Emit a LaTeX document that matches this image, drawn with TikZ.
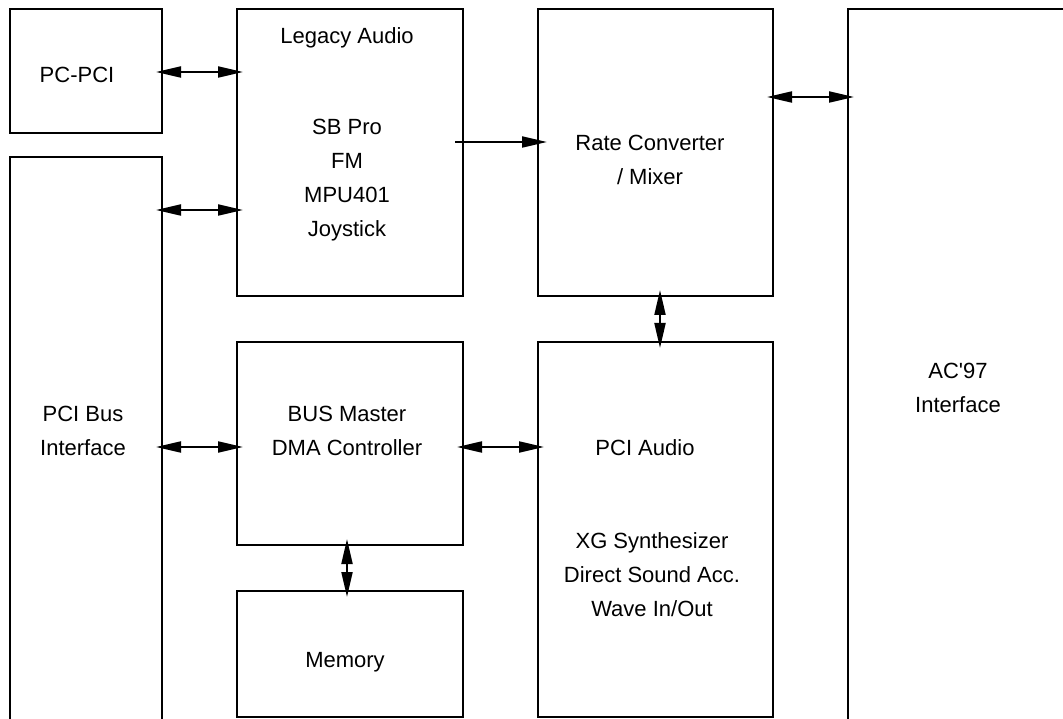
\documentclass[tikz,border=0pt]{standalone}
\usepackage{fontspec}
\newfontfamily\boxfont{Liberation Sans}
\usetikzlibrary{positioning, arrows.meta}

\tikzset{
  box/.style={draw, line width=2pt, inner sep=0pt, outer sep=0pt},
  boxtext/.style={font=\boxfont\fontsize{22}{34}\selectfont, align=center, inner sep=0pt},
  link/.style={line width=2pt, >={Triangle[length=25pt,width=11pt]}, shorten <=-6pt, shorten >=-6pt}
}

\begin{document}
\begin{tikzpicture}[x=1pt, y=-1pt]
  \useasboundingbox (0,0) rectangle (1063,719);
  \clip (0,0) rectangle (1063,719);

  % Boxes
  \node[box, minimum width=152pt, minimum height=124pt] (pcpci) at (86,71) {};
  \node[box, minimum width=152pt, minimum height=603pt] (pcibus) at (86,458.5) {};
  \node[box, minimum width=226pt, minimum height=287pt] (legacy) at (350,152.5) {};
  \node[box, minimum width=226pt, minimum height=203pt] (busmaster) at (350,443.5) {};
  \node[box, minimum width=226pt, minimum height=126pt] (memory) at (350,654) {};
  \node[box, minimum width=235pt, minimum height=287pt] (rate) at (655.5,152.5) {};
  \node[box, minimum width=235pt, minimum height=375pt] (pciaudio) at (655.5,529.5) {};
  \node[box, minimum width=272pt, minimum height=751pt] (ac97) at (984,384.5) {};

  % Texts
  \node[boxtext] (pcpcitext) at (77,75) {PC-PCI};
  \node[boxtext] (pcibustext) at (83,431) {PCI Bus\\Interface};
  \node[boxtext] (legacytitle) at (347,38) {Legacy Audio};
  \node[boxtext] (legacytext) at (347,180) {SB Pro\\FM\\MPU401\\Joystick};
  \node[boxtext] (busmastertext) at (347,431) {BUS Master\\DMA Controller};
  \node[boxtext] (memorytext) at (345,662) {Memory};
  \node[boxtext] (ratetext) at (650,160) {Rate Converter\\/ Mixer};
  \node[boxtext] (pciaudiotitle) at (645,448) {PCI Audio};
  \node[boxtext] (pciaudiotext) at (652,575) {XG Synthesizer\\Direct Sound Acc.\\Wave In/Out};
  \node[boxtext] (ac97text) at (958,388) {AC'97\\Interface};

  % Arrows
  \draw[link, <->] (pcpci.east |- 0,72) -- (legacy.west |- 0,72);
  \draw[link, <->] (pcibus.east |- 0,210) -- (legacy.west |- 0,210);
  \draw[link, ->, shorten <=-8pt, shorten >=-9pt] (legacy.east |- 0,142) -- (rate.west |- 0,142);
  \draw[link, <->] (rate.east |- 0,97) -- (ac97.west |- 0,97);
  \draw[link, <->] (pcibus.east |- 0,447) -- (busmaster.west |- 0,447);
  \draw[link, <->] (busmaster.east |- 0,447) -- (pciaudio.west |- 0,447);
  \draw[link, <->] (rate.south -| 660,0) -- (pciaudio.north -| 660,0);
  \draw[link, <->] (busmaster.south -| 347,0) -- (memory.north -| 347,0);
\end{tikzpicture}
\end{document}
